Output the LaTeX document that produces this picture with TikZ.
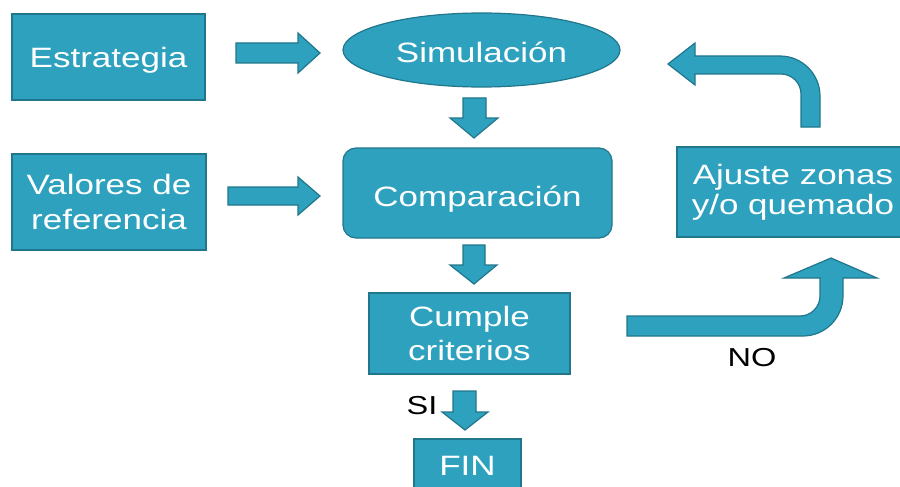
\documentclass[tikz,border=0pt]{standalone}
\usepackage{fontspec}
\setmainfont{Liberation Sans}[FakeStretch=1.25]
\usetikzlibrary{shapes.geometric}
\definecolor{tealfill}{RGB}{45,161,190}
\definecolor{tealline}{RGB}{33,118,140}
\begin{document}
\begin{tikzpicture}[x=1pt,y=-1pt,
 box/.style={draw=tealline, line width=1.2pt, fill=tealfill, text=white, align=center, inner sep=0pt},
 onel/.style={text height=20pt, text depth=0pt, font=\fontsize{28}{33}\selectfont},
 barrow/.style={draw=tealline, line width=1.2pt, fill=tealfill, line join=miter},
 lbl/.style={text=black, font=\fontsize{26}{30}\selectfont, inner sep=0pt}]
\clip (0,0) rectangle (900,487);
% nodes
\node[box, onel, minimum width=193pt, minimum height=86pt] (est) at (108.5,57) {\raisebox{-1pt}{Estrategia}};
\node[box, minimum width=194pt, minimum height=96pt, font=\fontsize{28}{35}\selectfont] (val) at (109,202) {Valores de\\referencia};
\node[box, onel, ellipse, minimum width=277pt, minimum height=74pt] (sim) at (481.5,50) {\raisebox{-2pt}{Simulación}};
\node[box, onel, rounded corners=13pt, minimum width=269pt, minimum height=90pt] (comp) at (477.5,193) {\raisebox{-3pt}{Comparación}};
\node[box, minimum width=201pt, minimum height=81pt, font=\fontsize{28}{34}\selectfont] (cum) at (469.5,333.5) {Cumple\\criterios};
\node[box, onel, minimum width=107pt, minimum height=52pt] (fin) at (467.5,465) {FIN};
\node[box, minimum width=232pt, minimum height=90pt, font=\fontsize{28}{30}\selectfont] (aju) at (793,192) {Ajuste zonas\\y/o quemado};
% block arrows
\draw[barrow] (236,43) -- (298,43) -- (298,33) -- (320,53) -- (298,73) -- (298,63) -- (236,63) -- cycle;
\draw[barrow] (228,187) -- (298,187) -- (298,177) -- (320,196) -- (298,215) -- (298,205) -- (228,205) -- cycle;
\draw[barrow] (463,98) -- (486,98) -- (486,118) -- (498,118) -- (474,138) -- (450,118) -- (463,118) -- cycle;
\draw[barrow] (463,245) -- (485,245) -- (485,265) -- (497,265) -- (474,284) -- (450,265) -- (463,265) -- cycle;
\draw[barrow] (453,391) -- (476,391) -- (476,412) -- (488,412) -- (465,430) -- (442,412) -- (453,412) -- cycle;
% bent arrow: ajuste -> simulacion
\draw[barrow] (801,127) -- (820,127) -- (820,96) .. controls (820,74) and (802,56) .. (780,56) -- (695,56) -- (695,43) -- (668,64) -- (695,85) -- (695,74) -- (781,74) .. controls (792,74) and (801,83) .. (801,94) -- cycle;
% bent arrow: cumple -> ajuste
\draw[barrow] (627,316) -- (800,316) .. controls (811,316) and (820,307) .. (820,296) -- (820,278) -- (784,278) -- (831,258) -- (877,278) -- (843,278) -- (843,296) .. controls (843,318) and (825,336) .. (803,336) -- (627,336) -- cycle;
% labels
\node[lbl] (si) at (422,406) {SI};
\node[lbl] (no) at (752,358) {NO};
\end{tikzpicture}
\end{document}
